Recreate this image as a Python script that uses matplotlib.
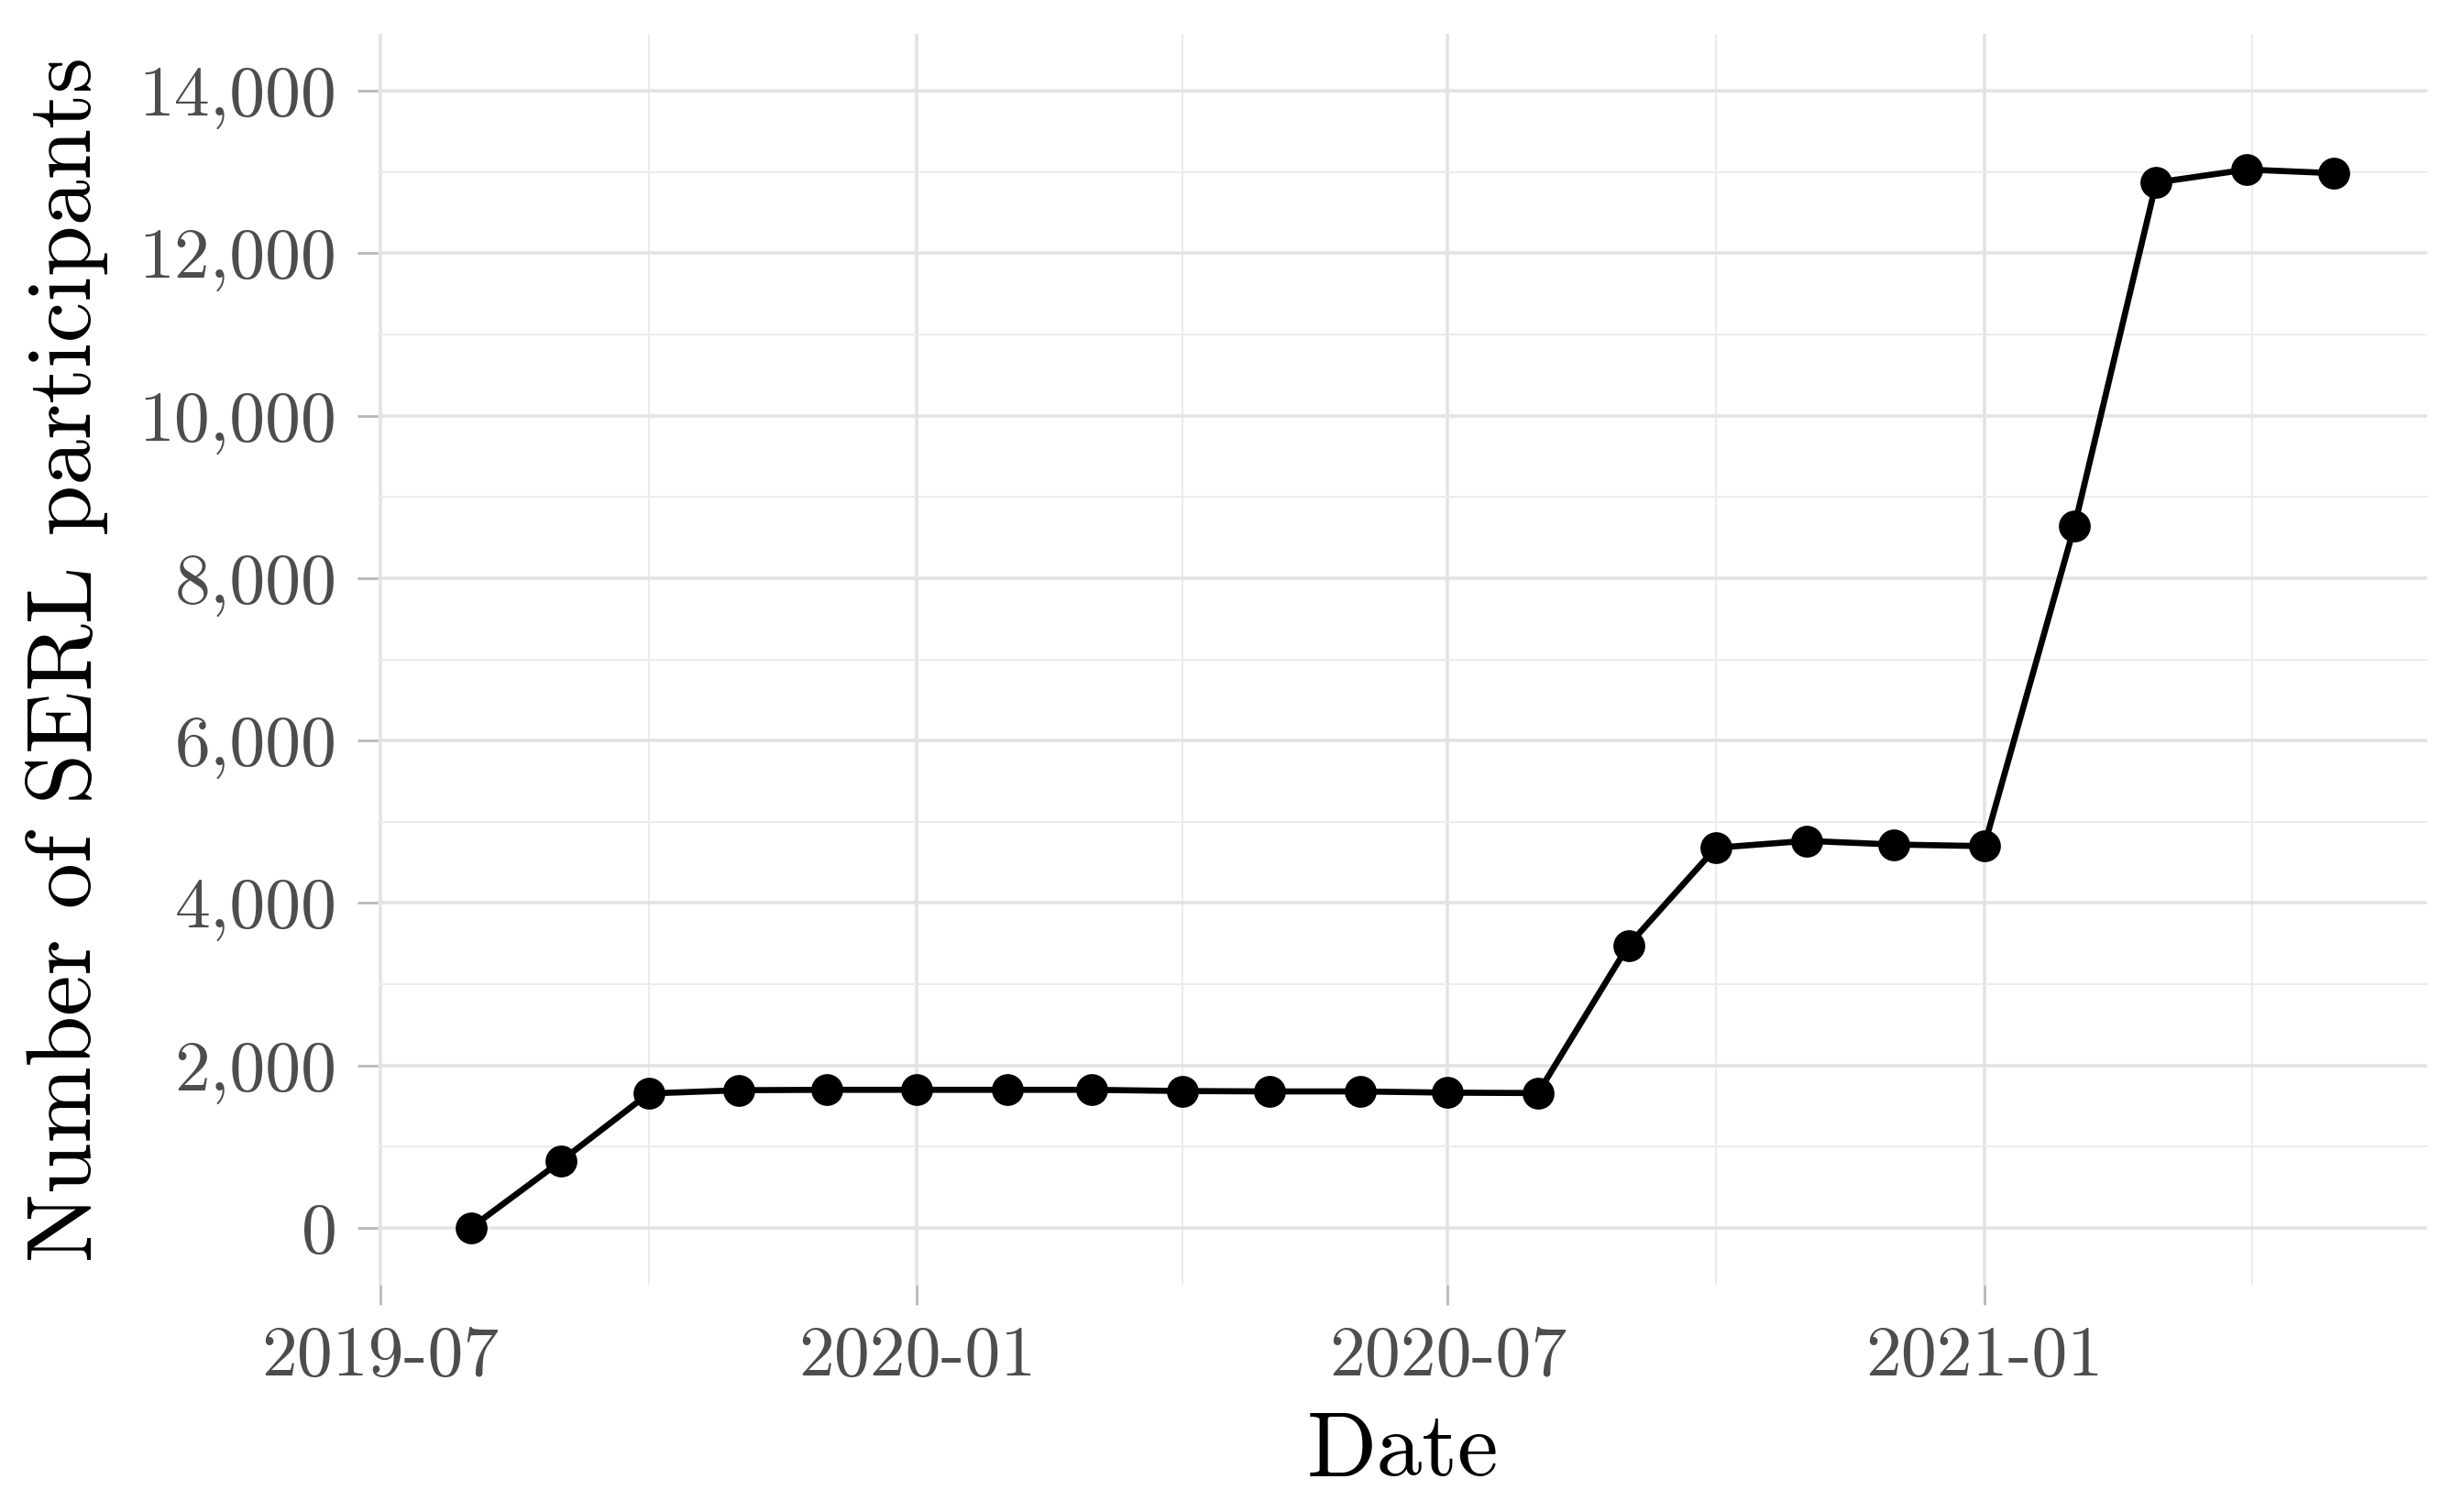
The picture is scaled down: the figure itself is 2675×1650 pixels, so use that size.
import numpy as np
import pandas as pd
import matplotlib
matplotlib.use("Agg")
import matplotlib.pyplot as plt
import matplotlib.dates as mdates
from matplotlib.ticker import FuncFormatter, FixedLocator

# Monthly SERL participant counts
months = pd.date_range("2019-08-01", "2021-05-01", freq="MS")
participants = [0, 825, 1655, 1695, 1700, 1700, 1700, 1700, 1685, 1680, 1680,
                1665, 1660, 3480, 4680, 4765, 4720, 4700, 8645, 12870, 13030, 12985]

x_breaks = pd.to_datetime(["2019-07-01", "2020-01-01", "2020-07-01", "2021-01-01"])
y_breaks = [0, 2000, 4000, 6000, 8000, 10000, 12000, 14000]

plt.rcParams['font.family'] = ['cmr10', 'DejaVu Serif']
plt.rcParams['axes.unicode_minus'] = False
plt.rcParams['mathtext.fontset'] = 'cm'

dpi = 200
fig = plt.figure(figsize=(2675 / dpi, 1650 / dpi), dpi=dpi)
ax = fig.add_axes([412 / 2675, 1 - 1402 / 1650, (2648 - 412) / 2675, (1402 - 37) / 1650])

xd = mdates.date2num(months)
ax.plot(xd, participants, color='black', lw=2.4, zorder=3)
ax.plot(xd, participants, 'o', color='black', ms=11.5, zorder=4)

# ggplot-like expansion (5%)
span = xd.max() - xd.min()
ax.set_xlim(xd.min() - 0.05 * span, xd.max() + 0.05 * span)
ax.set_ylim(-700, 14700)

xb = mdates.date2num(x_breaks)
x_minor = list((xb[:-1] + xb[1:]) / 2) + [xb[-1] + (xb[1] - xb[0]) / 2]
ax.xaxis.set_major_locator(FixedLocator(xb))
ax.xaxis.set_minor_locator(FixedLocator(x_minor))
ax.xaxis.set_major_formatter(mdates.DateFormatter("%Y-%m"))
ax.yaxis.set_major_locator(FixedLocator(y_breaks))
ax.yaxis.set_minor_locator(FixedLocator([v + 1000 for v in y_breaks[:-1]]))
ax.yaxis.set_major_formatter(FuncFormatter(lambda v, p: f"{int(v):,}"))

ax.grid(True, which='major', color='#e3e3e3', lw=1.3)
ax.grid(True, which='minor', color='#ebebeb', lw=0.75)
ax.set_axisbelow(True)
for s in ax.spines.values():
    s.set_visible(False)

ax.tick_params(which='major', length=8, width=1.0, color='#b8b8b8', pad=8,
               labelsize=28, labelcolor='#4d4d4d')
ax.tick_params(which='minor', length=0)

ax.set_xlabel("Date", fontsize=36, labelpad=9)
ax.set_ylabel("Number of SERL participants", fontsize=36, labelpad=12)

fig.savefig("out.png", dpi=dpi, facecolor='white')
